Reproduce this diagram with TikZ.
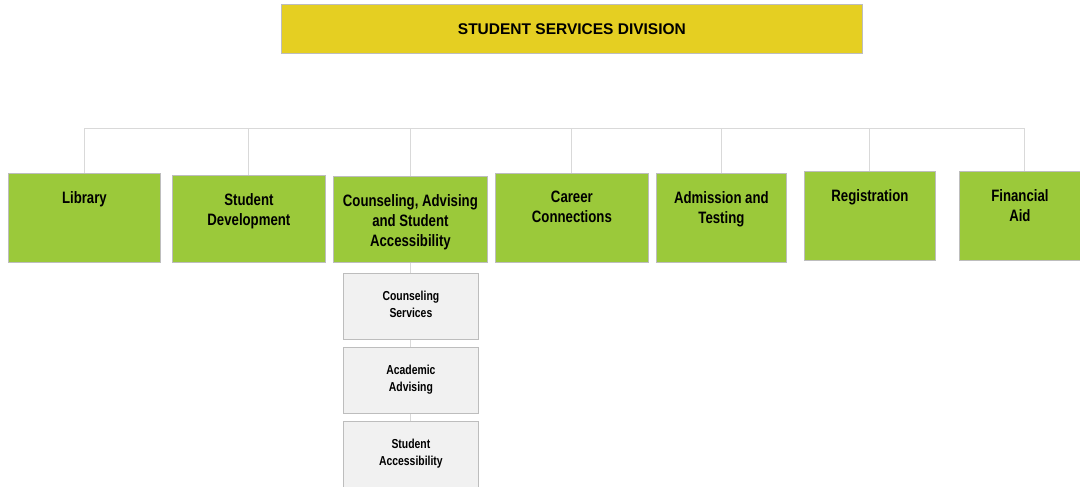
\documentclass[tikz,border=0pt]{standalone}
\usepackage{fontspec}
\setmainfont{Liberation Sans}[FakeStretch=0.8,BoldFeatures={FakeStretch=0.8}]
\newfontfamily\widefont{Liberation Sans}
\definecolor{gold}{HTML}{E5CF22}
\definecolor{leaf}{HTML}{9BC93A}
\definecolor{pale}{HTML}{F1F1F1}
\definecolor{edge}{HTML}{BDBDBD}
\definecolor{wire}{HTML}{D9D9D9}
\tikzset{
  box/.style={draw=edge, line width=0.8pt, anchor=north west, inner sep=0pt},
  topbox/.style={box, fill=gold},
  dept/.style={box, fill=leaf},
  unit/.style={box, fill=pale},
  deptlbl/.style={anchor=north, align=center, inner sep=0pt, font=\fontsize{16.5}{20}\selectfont\bfseries},
  unitlbl/.style={anchor=north, align=center, inner sep=0pt, font=\fontsize{13}{17}\selectfont\bfseries},
  wirestyle/.style={draw=wire, line width=0.9pt}
}
\begin{document}
\begin{tikzpicture}[x=1pt,y=-1pt]
\useasboundingbox (0,0) rectangle (1080,487);
% top
\node[topbox, minimum width=581pt, minimum height=49pt] (top) at (281,4) {};
\node[font=\widefont\fontsize{15.5}{18}\selectfont\bfseries] (toplbl) at (top.center) {STUDENT SERVICES DIVISION};
% departments
\node[dept, minimum width=152pt, minimum height=89pt] (lib) at (8,173) {};
\node[dept, minimum width=153pt, minimum height=87pt] (sd) at (172,175) {};
\node[dept, minimum width=154pt, minimum height=86pt] (cas) at (333,176) {};
\node[dept, minimum width=153pt, minimum height=89pt] (cc) at (495,173) {};
\node[dept, minimum width=130pt, minimum height=89pt] (at) at (656,173) {};
\node[dept, minimum width=131pt, minimum height=89pt] (reg) at (804,171) {};
\node[dept, minimum width=121pt, minimum height=89pt] (fa) at (959,171) {};
\node[deptlbl] (liblbl) at ([yshift=-18pt]lib.north) {Library};
\node[deptlbl] (sdlbl) at ([yshift=-18pt]sd.north) {Student\\Development};
\node[deptlbl] (caslbl) at ([yshift=-18pt]cas.north) {Counseling, Advising\\and Student\\Accessibility};
\node[deptlbl] (cclbl) at ([yshift=-18pt]cc.north) {Career\\Connections};
\node[deptlbl] (atlbl) at ([yshift=-18pt]at.north) {Admission and\\Testing};
\node[deptlbl] (reglbl) at ([yshift=-18pt]reg.north) {Registration};
\node[deptlbl] (falbl) at ([yshift=-18pt]fa.north) {Financial\\Aid};
% sub units
\node[unit, minimum width=135pt, minimum height=66pt] (cs) at (343,273) {};
\node[unit, minimum width=135pt, minimum height=66pt] (aa) at (343,347) {};
\node[unit, minimum width=135pt, minimum height=66pt] (sa) at (343,421) {};
\node[unitlbl] (cslbl) at ([yshift=-18pt]cs.north) {Counseling\\Services};
\node[unitlbl] (aalbl) at ([yshift=-18pt]aa.north) {Academic\\Advising};
\node[unitlbl] (salbl) at ([yshift=-18pt]sa.north) {Student\\Accessibility};
% connectors
\coordinate (bus) at (0,128);
\coordinate (faTop) at ([xshift=4.5pt]fa.north);
\draw[wirestyle] (lib.north) -- (lib.north |- bus) -- (bus -| faTop) -- (faTop);
\draw[wirestyle] (sd.north) -- (sd.north |- bus);
\draw[wirestyle] (cas.north) -- (cas.north |- bus);
\draw[wirestyle] (cc.north) -- (cc.north |- bus);
\draw[wirestyle] (at.north) -- (at.north |- bus);
\draw[wirestyle] (reg.north) -- (reg.north |- bus);
\draw[wirestyle] (cas.south -| cs.north) -- (cs.north);
\draw[wirestyle] (cs.south) -- (aa.north);
\draw[wirestyle] (aa.south) -- (sa.north);
\end{tikzpicture}
\end{document}
